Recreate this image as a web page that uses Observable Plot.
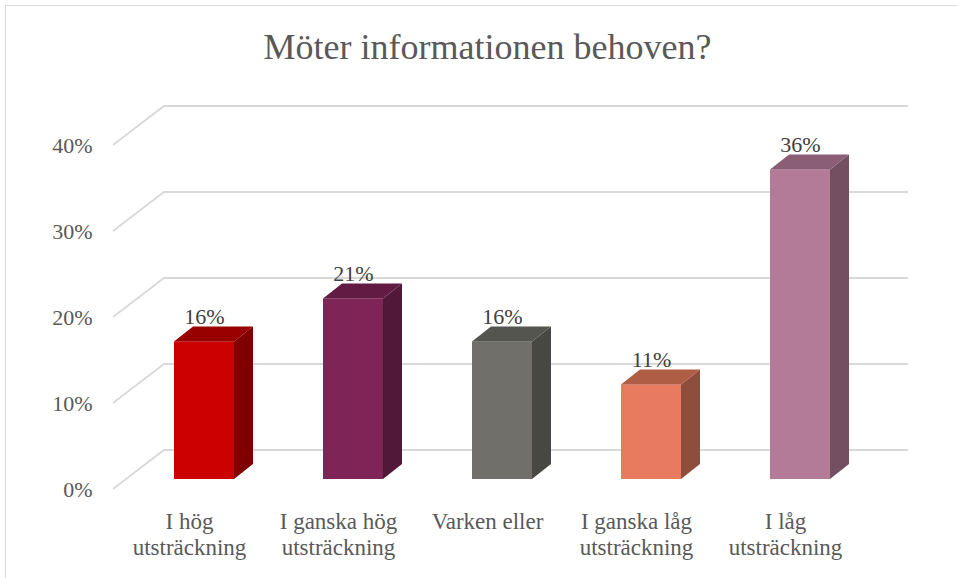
<!DOCTYPE html>
<html><head><meta charset="utf-8">
<script src="https://cdn.jsdelivr.net/npm/d3@7"></script>
<script src="https://cdn.jsdelivr.net/npm/@observablehq/plot@0.6"></script>
<style>
html,body{margin:0;padding:0;background:#fff;overflow:hidden;}
#wrap{position:relative;width:957px;height:578px;}
#wrap svg{position:absolute;left:0;top:0;}
#border{position:absolute;left:5px;top:5px;width:1000px;height:1000px;border-left:1.5px solid #d9d9d9;border-top:1.5px solid #d9d9d9;pointer-events:none;}
</style></head><body><div id="wrap"></div>
<script>
const title = "Möter informationen behoven?";
const categories = ["I hög utsträckning", "I ganska hög utsträckning", "Varken eller", "I ganska låg utsträckning", "I låg utsträckning"];
const values = [0.16, 0.21, 0.16, 0.11, 0.36];
const valueLabels = ["16%", "21%", "16%", "11%", "36%"];
const frontColors = ["#cc0000", "#7f2457", "#706f69", "#e87b5f", "#b47b98"];
const sideColors = ["#800000", "#51183a", "#484843", "#8e4e3b", "#744f62"];
const topColors = ["#990000", "#621c44", "#55554f", "#b05d45", "#8a5f75"];
const yTicks = [0, 0.1, 0.2, 0.3, 0.4];

const data = categories.map((c, i) => ({category: c, value: values[i], label: valueLabels[i], front: frontColors[i], side: sideColors[i], top: topColors[i]}));

// 3D geometry (pixel offsets)
const wall = {dx: 51, dy: -39};      // back wall offset
const shift = {dx: 15, dy: -10};     // bar front-face offset from floor front
const depth = {dx: 19, dy: -15};     // bar depth

function gridRender(index, scales, values, dim) {
  const g = d3.create("svg:g");
  const x0 = dim.marginLeft;
  const xEnd = dim.width - dim.marginRight + wall.dx - 4;
  for (const i of index) {
    const y = scales.y(yTicks[i]);
    g.append("path")
      .attr("d", `M${x0},${y}L${x0 + wall.dx},${y + wall.dy}L${xEnd},${y + wall.dy}`)
      .attr("fill", "none").attr("stroke", "#d9d9d9").attr("stroke-width", 1.8);
  }
  return g.node();
}

function barsRender(index, scales, values, dim) {
  const g = d3.create("svg:g");
  const bw = scales.x.bandwidth ? scales.x.bandwidth() : scales.scales.x.bandwidth;
  for (const i of index) {
    const d = data[i];
    const x1 = scales.x(d.category) + shift.dx, x2 = x1 + bw;
    const yb = scales.y(0) + shift.dy, yt = scales.y(d.value) + shift.dy;
    g.append("rect").attr("x", x1).attr("y", yt).attr("width", bw).attr("height", yb - yt).attr("fill", d.front);
    g.append("path").attr("fill", d.side)
      .attr("d", `M${x2},${yt}L${x2 + depth.dx},${yt + depth.dy}L${x2 + depth.dx},${yb + depth.dy}L${x2},${yb}Z`);
    g.append("path").attr("fill", d.top)
      .attr("d", `M${x1},${yt}L${x1 + depth.dx},${yt + depth.dy}L${x2 + depth.dx},${yt + depth.dy}L${x2},${yt}Z`);
  }
  return g.node();
}

const chart = Plot.plot({
  width: 957, height: 578,
  marginLeft: 113, marginRight: 96, marginTop: 145, marginBottom: 89,
  style: {fontFamily: "'Liberation Serif', 'Times New Roman', serif", fontSize: "22px", color: "#595959", background: "transparent"},
  x: {domain: categories, paddingInner: 0.599, paddingOuter: 0.2995, axis: null},
  y: {domain: [0, 0.4], axis: null},
  marks: [
    Plot.ruleY(yTicks, {render: gridRender}),
    Plot.barY(data, {x: "category", y: "value", render: barsRender}),
    Plot.text(data, {x: "category", y: "value", text: "label", dx: shift.dx, dy: shift.dy - 18, lineAnchor: "bottom", fontSize: 22, fill: "#404040"}),
    Plot.axisY({ticks: yTicks, tickFormat: d3.format(".0%"), tickSize: 0, tickPadding: 21, fontSize: 22, label: null}),
    Plot.axisX({tickSize: 0, tickPadding: 22, fontSize: 23, lineHeight: 1.1, label: null,
      tickFormat: d => d.replace(" utsträckning", "\nutsträckning")}),
    Plot.text([title], {frameAnchor: "top", dy: -87, lineAnchor: "bottom", fontSize: 36, fill: "#595959"})
  ]
});
const wrap = document.getElementById("wrap");
wrap.appendChild(chart);
const b = document.createElement("div"); b.id = "border"; wrap.appendChild(b);
</script></body></html>
